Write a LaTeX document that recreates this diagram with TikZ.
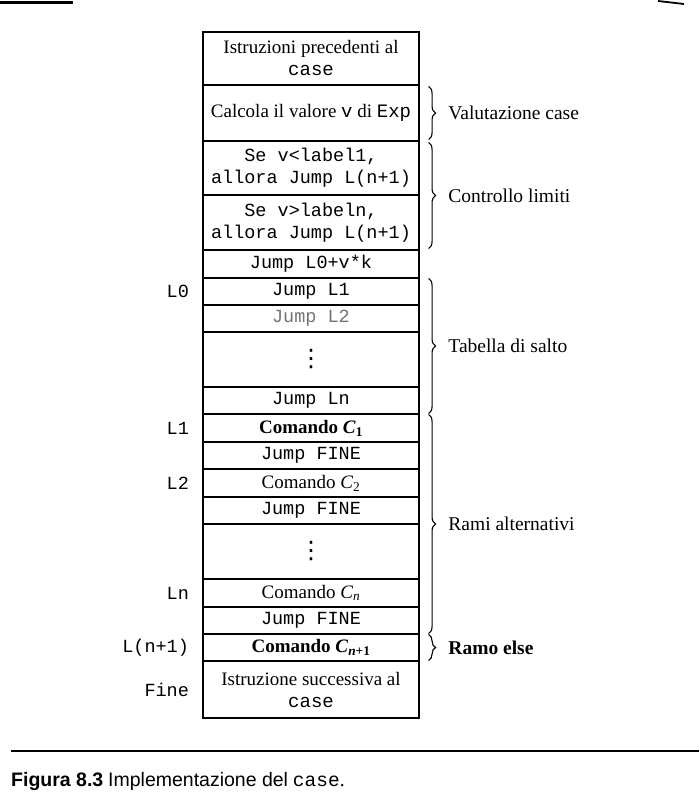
\documentclass[tikz,border=0pt]{standalone}
\usepackage{fontspec}
\setmainfont{Liberation Serif}
\setmonofont{Liberation Mono}
\newfontfamily\capsans{Liberation Sans}
\newfontfamily\dejavu{DejaVu Sans}
\usetikzlibrary{decorations.pathreplacing}
\begin{document}
\begin{tikzpicture}[x=1pt,y=-1pt,
  cell/.style={draw, line width=1.1pt, minimum width=216pt, inner sep=0pt, align=center,
    font=\fontsize{19}{22}\selectfont},
  mono/.style={font=\fontsize{18.5}{22}\selectfont\ttfamily},
  dotsc/.style={font=\fontsize{24}{26}\selectfont\dejavu},
  lab/.style={anchor=east, font=\fontsize{18.5}{22}\selectfont\ttfamily},
  brc/.style={decorate, decoration={brace, amplitude=7pt}, line width=1.1pt},
  btxt/.style={anchor=west, font=\fontsize{19.5}{22}\selectfont}]
\useasboundingbox (0,0) rectangle (699,799);
% scan remnants at the top
\draw[line width=2.5pt] (0,2.5) -- (73,2.5);
\draw[line width=1.8pt] (658,1) -- (684,4);
% cells
\node[cell, minimum height=53pt] (r1) at (311,58.5) {Istruzioni precedenti al\\ \texttt{case}};
\node[cell, minimum height=56pt] (r2) at (311,113) {Calcola il valore \texttt{v} di \texttt{Exp}};
\node[cell, mono, minimum height=54pt] (r3) at (311,168) {Se v<label1,\\allora Jump L(n+1)};
\node[cell, mono, minimum height=55pt] (r4) at (311,222.5) {Se v>labeln,\\allora Jump L(n+1)};
\node[cell, mono, minimum height=28pt] (r5) at (311,264) {Jump L0+v*k};
\node[cell, mono, minimum height=27pt] (r6) at (311,291.5) {Jump L1};
\node[cell, mono, minimum height=27pt, text=black!55] (r7) at (311,318.5) {Jump L2};
\node[cell, dotsc, minimum height=55pt] (r8) at (311,359.5) {⋮};
\node[cell, mono, minimum height=27pt] (r9) at (311,400.5) {Jump Ln};
\node[cell, minimum height=28pt] (r10) at (311,428) {\textbf{Comando \textit{C}\textsubscript{1}}};
\node[cell, mono, minimum height=27pt] (r11) at (311,455.5) {Jump FINE};
\node[cell, minimum height=28pt] (r12) at (311,483) {Comando \textit{C}\textsubscript{2}};
\node[cell, mono, minimum height=27pt] (r13) at (311,510.5) {Jump FINE};
\node[cell, dotsc, minimum height=55pt] (r14) at (311,551.5) {⋮};
\node[cell, minimum height=28pt] (r15) at (311,593) {Comando \textit{C}\textsubscript{\textit{n}}};
\node[cell, mono, minimum height=27pt] (r16) at (311,620.5) {Jump FINE};
\node[cell, minimum height=27pt] (r17) at (311,647.5) {\textbf{Comando \textit{C}\textsubscript{\textit{n}+1}}};
\node[cell, minimum height=57pt] (r18) at (311,689.5) {Istruzione successiva al\\ \texttt{case}};
% left labels
\node[lab] (l0) at ([xshift=-10pt]r6.west) {L0};
\node[lab] (l1) at ([xshift=-10pt]r10.west) {L1};
\node[lab] (l2) at ([xshift=-10pt]r12.west) {L2};
\node[lab] (ln) at ([xshift=-10pt]r15.west) {Ln};
\node[lab] (lnp) at ([xshift=-10pt]r17.west) {L(n+1)};
\node[lab] (lfine) at ([xshift=-10pt]r18.west) {Fine};
% braces
\draw[brc] ([shift={(9pt,-2pt)}]r2.north east) -- ([shift={(9pt,2pt)}]r2.south east)
  node[btxt, midway, xshift=16pt] (b1) {Valutazione case};
\draw[brc] ([shift={(9pt,-2pt)}]r3.north east) -- ([shift={(9pt,2pt)}]r4.south east)
  node[btxt, midway, xshift=16pt] (b2) {Controllo limiti};
\draw[brc] ([shift={(9pt,-1pt)}]r6.north east) -- ([shift={(9pt,1pt)}]r9.south east)
  node[btxt, midway, xshift=16pt] (b3) {Tabella di salto};
\draw[brc] ([shift={(9pt,-1pt)}]r10.north east) -- ([shift={(9pt,1pt)}]r16.south east)
  node[btxt, midway, xshift=16pt] (b4) {Rami alternativi};
\draw[brc] ([shift={(9pt,-1pt)}]r17.north east) -- ([shift={(9pt,1pt)}]r17.south east)
  node[btxt, midway, xshift=16pt] (b5) {\textbf{Ramo else}};
% bottom rule and caption
\coordinate (ruleA) at (11,751);
\coordinate (ruleB) at (699,751);
\draw[line width=1.6pt] (ruleA) -- (ruleB);
\node[anchor=west, inner sep=0pt, font=\fontsize{19.5}{22}\selectfont] (cap) at (11,781)
  {{\capsans\bfseries Figura 8.3} {\capsans Implementazione del} \texttt{case}.};
\end{tikzpicture}
\end{document}
